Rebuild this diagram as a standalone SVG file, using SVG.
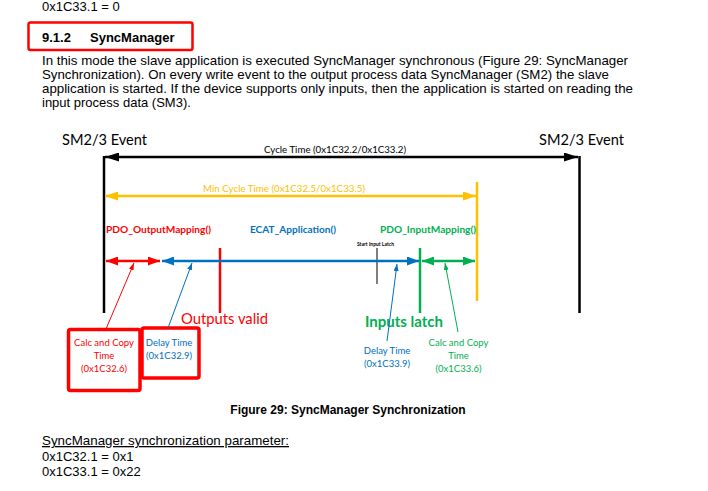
<svg xmlns="http://www.w3.org/2000/svg" width="708" height="491" viewBox="0 0 708 491">
<style>
.para{font-family:"Liberation Sans",Arial,sans-serif;font-size:13px;fill:#000}
.bold{font-weight:bold}
.d{font-family:Lato,"Open Sans",sans-serif}
.lbl{font-size:10px;font-weight:bold}
.small{font-size:9.5px}
.red{fill:#FF0000}.blue{fill:#0070C0}.green{fill:#00B050}.orange{fill:#FFC000}.blk{fill:#000}
.box{fill:none;stroke:#FF0000;stroke-width:3.5}
</style>
<defs>
<marker id="ak" markerUnits="userSpaceOnUse" markerWidth="14" markerHeight="9" refX="14" refY="4.5" orient="auto-start-reverse"><path d="M0,0 L14,4.5 L0,9 z" fill="#000"/></marker>
<marker id="ao" markerUnits="userSpaceOnUse" markerWidth="13" markerHeight="9" refX="13" refY="4.5" orient="auto-start-reverse"><path d="M0,0 L13,4.5 L0,9 z" fill="#FFC000"/></marker>
<marker id="ar" markerUnits="userSpaceOnUse" markerWidth="12" markerHeight="9" refX="12" refY="4.5" orient="auto-start-reverse"><path d="M0,0 L12,4.5 L0,9 z" fill="#FF0000"/></marker>
<marker id="ab" markerUnits="userSpaceOnUse" markerWidth="12" markerHeight="9" refX="12" refY="4.5" orient="auto-start-reverse"><path d="M0,0 L12,4.5 L0,9 z" fill="#0070C0"/></marker>
<marker id="ag" markerUnits="userSpaceOnUse" markerWidth="12" markerHeight="9" refX="12" refY="4.5" orient="auto-start-reverse"><path d="M0,0 L12,4.5 L0,9 z" fill="#00B050"/></marker>
<marker id="pr" markerUnits="userSpaceOnUse" markerWidth="7" markerHeight="5" refX="7" refY="2.5" orient="auto"><path d="M0,0 L7,2.5 L0,5 z" fill="#FF0000"/></marker>
<marker id="pb" markerUnits="userSpaceOnUse" markerWidth="7" markerHeight="5" refX="7" refY="2.5" orient="auto"><path d="M0,0 L7,2.5 L0,5 z" fill="#0070C0"/></marker>
<marker id="pg" markerUnits="userSpaceOnUse" markerWidth="7" markerHeight="5" refX="7" refY="2.5" orient="auto"><path d="M0,0 L7,2.5 L0,5 z" fill="#00B050"/></marker>
</defs>
<rect width="708" height="491" fill="#fff"/>

<g id="document-text">
<text class="para" x="42" y="10.5">0x1C33.1 = 0</text>
<rect x="28.5" y="22.5" width="164" height="27.5" rx="2" fill="none" stroke="#FF0000" stroke-width="2.5"/>
<text class="para bold" x="42" y="42">9.1.2</text>
<text class="para bold" x="90" y="42">SyncManager</text>
<text class="para" x="42" y="65" textLength="586" lengthAdjust="spacingAndGlyphs">In this mode the slave application is executed SyncManager synchronous (Figure 29: SyncManager</text>
<text class="para" x="42" y="79" textLength="567" lengthAdjust="spacingAndGlyphs">Synchronization). On every write event to the output process data SyncManager (SM2) the slave</text>
<text class="para" x="42" y="93" textLength="591" lengthAdjust="spacingAndGlyphs">application is started. If the device supports only inputs, then the application is started on reading the</text>
<text class="para" x="42" y="107">input process data (SM3).</text>
<text class="para bold" x="348" y="414" text-anchor="middle" style="font-size:12px">Figure 29: SyncManager Synchronization</text>
<text class="para" x="42" y="445" text-decoration="underline" textLength="247" lengthAdjust="spacingAndGlyphs">SyncManager synchronization parameter:</text>
<text class="para" x="42" y="461">0x1C32.1 = 0x1</text>
<text class="para" x="42" y="476">0x1C33.1 = 0x22</text>
</g>

<g id="event-left">
<text class="d blk" x="62" y="145" font-size="16" textLength="85" lengthAdjust="spacingAndGlyphs">SM2/3 Event</text>
<line x1="104" y1="156" x2="104" y2="313" stroke="#000" stroke-width="2.5"/>
</g>
<g id="event-right">
<text class="d blk" x="539" y="145" font-size="16" textLength="85" lengthAdjust="spacingAndGlyphs">SM2/3 Event</text>
<line x1="579.5" y1="156" x2="579.5" y2="313" stroke="#000" stroke-width="2.5"/>
</g>
<g id="min-cycle-end">
<line x1="477" y1="182" x2="477" y2="301" stroke="#FFC000" stroke-width="2.5"/>
</g>
<g id="outputs-valid">
<line x1="220" y1="248" x2="220" y2="313" stroke="#FF0000" stroke-width="2.5"/>
<text class="d red" x="181" y="324" font-size="16" textLength="87" lengthAdjust="spacingAndGlyphs">Outputs valid</text>
</g>
<g id="inputs-latch">
<line x1="420" y1="248" x2="420" y2="313" stroke="#00B050" stroke-width="2.5"/>
<text class="d green" x="365" y="327" font-size="16" font-weight="bold" textLength="78" lengthAdjust="spacingAndGlyphs">Inputs latch</text>
</g>
<g id="start-input-latch">
<text class="d blk" x="357" y="246" font-size="5" font-weight="bold" textLength="37" lengthAdjust="spacingAndGlyphs">Start Input Latch</text>
<line x1="377" y1="248" x2="377" y2="284" stroke="#000" stroke-width="1"/>
</g>

<g id="phase-labels">
<text class="d lbl red" x="106" y="233" textLength="105" lengthAdjust="spacingAndGlyphs">PDO_OutputMapping()</text>
<text class="d lbl blue" x="250" y="233" textLength="86" lengthAdjust="spacingAndGlyphs">ECAT_Application()</text>
<text class="d lbl green" x="380" y="233" textLength="96" lengthAdjust="spacingAndGlyphs">PDO_InputMapping()</text>
</g>

<g id="calc-copy-out">
<rect class="box" x="68.5" y="329.5" width="71.5" height="61" rx="2"/>
<text class="d small red" text-anchor="middle" x="104" y="345.5">Calc and Copy</text>
<text class="d small red" text-anchor="middle" x="104" y="359">Time</text>
<text class="d small red" text-anchor="middle" x="104" y="372">(0x1C32.6)</text>
</g>
<g id="delay-out">
<rect class="box" x="142" y="328" width="57" height="50" rx="2"/>
<text class="d small blue" text-anchor="middle" x="169" y="345.5">Delay Time</text>
<text class="d small blue" text-anchor="middle" x="169" y="359">(0x1C32.9)</text>
</g>
<g id="delay-in">
<text class="d small blue" text-anchor="middle" x="387" y="353.5">Delay Time</text>
<text class="d small blue" text-anchor="middle" x="387" y="366.5">(0x1C33.9)</text>
</g>
<g id="calc-copy-in">
<text class="d small green" text-anchor="middle" x="458.5" y="345.5">Calc and Copy</text>
<text class="d small green" text-anchor="middle" x="458.5" y="359">Time</text>
<text class="d small green" text-anchor="middle" x="458.5" y="372">(0x1C33.6)</text>
</g>

<g id="connectors" fill="none">
<line x1="105" y1="157" x2="578" y2="157" stroke="#000" stroke-width="2.5" marker-start="url(#ak)" marker-end="url(#ak)"/>
<text class="d blk" x="335" y="153" font-size="10" text-anchor="middle" textLength="142" lengthAdjust="spacingAndGlyphs">Cycle Time (0x1C32.2/0x1C33.2)</text>
<line x1="105" y1="196" x2="476" y2="196" stroke="#FFC000" stroke-width="2.5" marker-start="url(#ao)" marker-end="url(#ao)"/>
<text class="d orange" x="284" y="192" font-size="10" text-anchor="middle" textLength="162" lengthAdjust="spacingAndGlyphs">Min Cycle Time (0x1C32.5/0x1C33.5)</text>
<line x1="106" y1="261" x2="160" y2="261" stroke="#FF0000" stroke-width="2.5" marker-start="url(#ar)" marker-end="url(#ar)"/>
<line x1="162" y1="261" x2="419" y2="261" stroke="#0070C0" stroke-width="2.5" marker-start="url(#ab)" marker-end="url(#ab)"/>
<line x1="422" y1="261" x2="475" y2="261" stroke="#00B050" stroke-width="2.5" marker-start="url(#ag)" marker-end="url(#ag)"/>
<line x1="106" y1="329" x2="134" y2="263" stroke="#FF0000" stroke-width="1" marker-end="url(#pr)"/>
<line x1="168" y1="328" x2="192" y2="263" stroke="#0070C0" stroke-width="1" marker-end="url(#pb)"/>
<line x1="387" y1="341" x2="397" y2="264" stroke="#0070C0" stroke-width="1" marker-end="url(#pb)"/>
<line x1="458" y1="332" x2="445" y2="263" stroke="#00B050" stroke-width="1" marker-end="url(#pg)"/>
</g>
</svg>
